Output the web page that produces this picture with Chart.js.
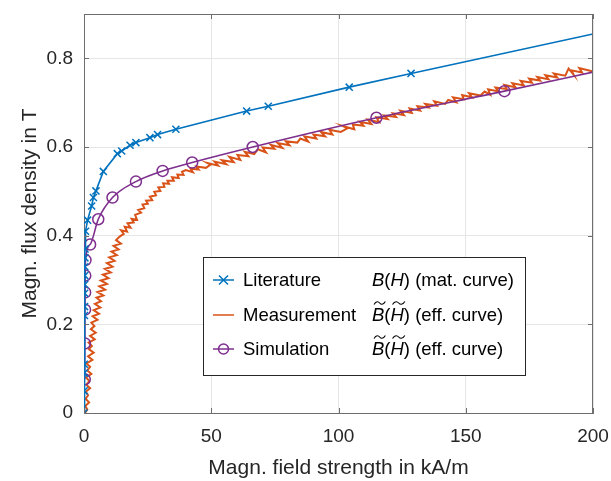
<!DOCTYPE html>
<html>
<head>
<meta charset="utf-8">
<script src="https://cdn.jsdelivr.net/npm/chart.js@4.4.1/dist/chart.umd.min.js"></script>
<style>
  html, body { margin: 0; padding: 0; background: #fff; }
  #wrap { width: 611px; height: 481px; }
</style>
</head>
<body>
<div id="wrap"><canvas id="chart" width="611" height="481"></canvas></div>
<script>
// Axis ticks
const xTicks = [0, 50, 100, 150, 200];
const yTicks = [0, 0.2, 0.4, 0.6, 0.8];

// Literature: B(H) material curve (kA/m, T)
const litH = [0, 0.05, 0.1, 0.12, 0.2, 0.22, 0.25, 0.28, 0.3, 0.33, 0.36, 0.4, 0.6, 1.4, 3.0, 3.7, 4.7, 7.6,
  13.1, 14.8, 18.1, 20.4, 25.9, 28.9, 36.1, 63.9, 72.4, 104.2, 128.5, 200];
const litB = [0, 0.05, 0.09, 0.11, 0.22, 0.24, 0.27, 0.29, 0.31, 0.33, 0.35, 0.37, 0.41, 0.435, 0.467, 0.486, 0.501, 0.545,
  0.585, 0.591, 0.604, 0.610, 0.621, 0.628, 0.640, 0.681, 0.692, 0.735, 0.766, 0.855];

const measH = [
  0.4, 1.3, 0.5, 2.0, 0.6, 1.6, 0.7, 2.4, 0.9, 2.1, 0.8, 2.9, 1.3, 2.4, 1.0, 3.3, 1.6, 3.8, 1.9, 3.1,
  1.8, 4.2, 2.4, 4.6, 2.7, 4.1, 2.9, 5.3, 3.4, 5.9, 3.8, 6.4, 4.3, 6.7, 4.9, 7.6, 5.3, 8.3, 6.0, 9.0,
  6.6, 9.6, 7.4, 10.5, 8.2, 11.2, 9.0, 12.0, 9.9, 12.9, 10.8, 13.6, 11.6, 14.5, 12.6, 14.0,
  15.6, 14.6, 16.9, 16.0, 18.3, 17.1, 19.5, 18.7, 20.8, 20.1, 22.4, 21.3, 23.7, 23.0, 25.1, 24.4,
  26.8, 25.9, 28.3, 27.6, 30.0, 29.2, 31.6, 31.1, 33.4, 32.8, 35.3, 34.6, 37.2, 36.7, 39.1, 38.5,
  40.0, 42.8, 41.9, 45.1, 44.2, 47.9, 49.6, 48.4, 52.7, 51.3, 55.9, 54.2, 58.8, 57.1, 61.4, 60.3, 64.6, 63.2, 66.9, 68.3,
  71.5, 70.2, 74.8, 73.4, 77.9, 76.1, 80.7, 79.3, 83.8, 85.0, 88.1, 86.6, 91.3, 90.2, 94.7, 93.1, 97.6, 96.4, 100.9, 103.5,
  101.8, 106.2, 105.6, 109.8, 108.4, 112.9, 111.5, 116.0, 114.9, 119.3, 118.0, 122.6, 121.4, 125.7, 124.3, 128.8, 127.9, 132.1, 131.0, 135.4,
  134.1, 138.7, 137.6, 141.9, 143.1, 146.3, 145.0, 149.2, 148.6, 152.5, 151.3, 155.8, 157.4, 159.6, 158.8, 162.9, 161.7, 166.1, 165.2, 169.5,
  168.3, 172.8, 171.6, 176.0, 174.9, 179.2, 178.1, 182.5, 181.3, 185.9, 184.6, 189.1, 190.4, 192.3, 191.5, 195.7, 194.6, 198.8, 200.0];
const measB = [
  0.000, 0.008, 0.016, 0.024, 0.032, 0.040, 0.048, 0.056, 0.064, 0.072, 0.080, 0.088, 0.096, 0.104, 0.112, 0.120, 0.128, 0.136, 0.144, 0.151,
  0.159, 0.166, 0.174, 0.181, 0.189, 0.196, 0.204, 0.210, 0.218, 0.224, 0.232, 0.238, 0.246, 0.252, 0.260, 0.265, 0.273, 0.278, 0.286, 0.291,
  0.299, 0.304, 0.312, 0.317, 0.325, 0.330, 0.338, 0.343, 0.351, 0.356, 0.364, 0.369, 0.377, 0.382, 0.390, 0.398,
  0.404, 0.412, 0.409, 0.420, 0.418, 0.428, 0.430, 0.438, 0.436, 0.447, 0.452, 0.458, 0.462, 0.470, 0.472, 0.479,
  0.480, 0.488, 0.491, 0.499, 0.501, 0.509, 0.510, 0.518, 0.517, 0.524, 0.524, 0.532, 0.530, 0.538, 0.537, 0.544,
  0.548, 0.543, 0.551, 0.549, 0.556, 0.553, 0.560, 0.564, 0.558, 0.567, 0.561, 0.570, 0.566, 0.578, 0.571, 0.582, 0.579, 0.589, 0.584, 0.595,
  0.588, 0.599, 0.596, 0.605, 0.598, 0.609, 0.604, 0.613, 0.610, 0.619, 0.612, 0.624, 0.619, 0.628, 0.624, 0.634, 0.628, 0.639, 0.634, 0.642,
  0.647, 0.640, 0.651, 0.648, 0.657, 0.652, 0.662, 0.656, 0.667, 0.663, 0.671, 0.668, 0.676, 0.672, 0.682, 0.677, 0.687, 0.682, 0.692, 0.689,
  0.697, 0.693, 0.703, 0.697, 0.706, 0.701, 0.712, 0.708, 0.717, 0.712, 0.721, 0.716, 0.725, 0.718, 0.730, 0.725, 0.734, 0.731, 0.740, 0.735,
  0.744, 0.739, 0.749, 0.745, 0.754, 0.750, 0.758, 0.753, 0.762, 0.757, 0.766, 0.761, 0.777, 0.764, 0.773, 0.768, 0.778, 0.772, 0.770];

// Simulation: effective curve
const simH = [0.3, 0.35, 0.4, 0.45, 0.5, 0.6, 2.4, 5.6, 11.2, 20.4, 30.9, 42.5, 66.3, 114.9, 165.2, 200];
const simB = [0.076, 0.157, 0.233, 0.272, 0.31, 0.345, 0.38, 0.437, 0.486, 0.522, 0.546, 0.565, 0.600, 0.666, 0.726, 0.769];

const blue = '#0072BD';
const orange = '#D95319';
const purple = '#7E2F8E';
const axisColor = '#6e6e6e';
const fontFamily = '"Liberation Sans", Arial, Helvetica, sans-serif';

const toPoints = (xs, ys) => xs.map((v, i) => ({ x: v, y: ys[i] }));

// Box lines on top/right and inward tick marks (MATLAB style)
const boxAndTicks = {
    id: 'boxAndTicks',
    afterDatasetsDraw(chart) {
        const { ctx, chartArea: a, scales: { x, y } } = chart;
        ctx.save();
        ctx.strokeStyle = axisColor;
        ctx.lineWidth = 1;
        ctx.beginPath();
        ctx.moveTo(a.left, a.top + 0.5);
        ctx.lineTo(a.right, a.top + 0.5);
        ctx.moveTo(a.right - 0.5, a.top);
        ctx.lineTo(a.right - 0.5, a.bottom);
        xTicks.forEach(v => {
            const px = Math.round(x.getPixelForValue(v)) + 0.5;
            ctx.moveTo(px, a.bottom); ctx.lineTo(px, a.bottom - 5);
            ctx.moveTo(px, a.top); ctx.lineTo(px, a.top + 5);
        });
        yTicks.forEach(v => {
            const py = Math.round(y.getPixelForValue(v)) + 0.5;
            ctx.moveTo(a.left, py); ctx.lineTo(a.left + 5, py);
            ctx.moveTo(a.right, py); ctx.lineTo(a.right - 5, py);
        });
        ctx.stroke();
        ctx.restore();
    }
};

// Two-column legend box
const legendRows = [
    { label: 'Literature', color: blue, marker: 'cross', tilde: false, note: ' (mat. curve)' },
    { label: 'Measurement', color: orange, marker: null, tilde: true, note: ' (eff. curve)' },
    { label: 'Simulation', color: purple, marker: 'circle', tilde: true, note: ' (eff. curve)' }
];

function drawTilde(ctx, x0, w, yTop) {
    ctx.beginPath();
    ctx.moveTo(x0, yTop + 1.5);
    ctx.bezierCurveTo(x0 + w * 0.2, yTop - 2.5, x0 + w * 0.4, yTop - 1.5, x0 + w * 0.5, yTop);
    ctx.bezierCurveTo(x0 + w * 0.6, yTop + 1.5, x0 + w * 0.8, yTop + 2.5, x0 + w, yTop - 1.5);
    ctx.stroke();
}

const mathLegend = {
    id: 'mathLegend',
    afterDraw(chart) {
        const ctx = chart.ctx;
        const box = { x: 203.5, y: 257.5, w: 322, h: 118 };
        const rowY = [280, 315, 349];
        ctx.save();
        ctx.fillStyle = '#fff';
        ctx.fillRect(box.x, box.y, box.w, box.h);
        ctx.strokeStyle = '#262626';
        ctx.lineWidth = 1;
        ctx.strokeRect(box.x, box.y, box.w, box.h);

        legendRows.forEach((row, i) => {
            const cy = rowY[i];
            ctx.strokeStyle = row.color;
            ctx.lineWidth = 1.5;
            ctx.beginPath();
            ctx.moveTo(213, cy); ctx.lineTo(234, cy);
            ctx.stroke();
            if (row.marker === 'cross') {
                ctx.beginPath();
                ctx.moveTo(219, cy - 4.5); ctx.lineTo(228, cy + 4.5);
                ctx.moveTo(219, cy + 4.5); ctx.lineTo(228, cy - 4.5);
                ctx.stroke();
            } else if (row.marker === 'circle') {
                ctx.beginPath();
                ctx.arc(223.5, cy, 5, 0, Math.PI * 2);
                ctx.stroke();
            }

            ctx.fillStyle = '#000';
            ctx.textBaseline = 'middle';
            ctx.font = '18.5px ' + fontFamily;
            ctx.fillText(row.label, 243, cy + 1);

            // B(H) with optional tildes
            let x = 372;
            const italic = 'italic 18.5px ' + fontFamily;
            const upright = '18.5px ' + fontFamily;
            ctx.strokeStyle = '#000';
            ctx.lineWidth = 1.1;
            const parts = [
                { t: 'B', f: italic, tilde: row.tilde },
                { t: '(', f: upright },
                { t: 'H', f: italic, tilde: row.tilde },
                { t: ')' + row.note, f: upright }
            ];
            parts.forEach(p => {
                ctx.font = p.f;
                const w = ctx.measureText(p.t).width;
                ctx.fillText(p.t, x, cy + 1);
                if (p.tilde) drawTilde(ctx, x + 2, w - 1, cy - 12);
                x += w;
            });
        });
        ctx.restore();
    }
};

new Chart(document.getElementById('chart'), {
    type: 'scatter',
    data: {
        datasets: [
            {
                label: 'Literature',
                data: toPoints(litH, litB),
                showLine: true,
                borderColor: blue,
                backgroundColor: blue,
                borderWidth: 1.6,
                pointStyle: 'crossRot',
                pointRadius: ctx => (ctx.raw && ctx.raw.x >= 200 ? 0 : 5),
                pointBorderWidth: 1.5,
                order: 0
            },
            {
                label: 'Measurement',
                data: toPoints(measH, measB),
                showLine: true,
                borderColor: orange,
                borderWidth: 2,
                pointRadius: 0,
                order: 2
            },
            {
                label: 'Simulation',
                data: toPoints(simH, simB),
                showLine: true,
                borderColor: purple,
                backgroundColor: 'rgba(0,0,0,0)',
                borderWidth: 1.6,
                cubicInterpolationMode: 'monotone',
                pointStyle: 'circle',
                pointRadius: ctx => (ctx.raw && ctx.raw.x >= 200 ? 0 : 5.5),
                pointBorderWidth: 1.5,
                order: 1
            }
        ]
    },
    options: {
        responsive: false,
        animation: false,
        layout: { padding: { left: 0, right: 18, top: 14, bottom: 0 } },
        plugins: {
            legend: { display: false },
            tooltip: { enabled: false }
        },
        scales: {
            x: {
                type: 'linear',
                min: 0,
                max: 200,
                afterBuildTicks: scale => { scale.ticks = xTicks.map(v => ({ value: v })); },
                afterFit: scale => {
                    scale.height = 68;
                    scale.paddingLeft = 0;
                    scale.paddingRight = 0;
                },
                grid: { color: '#e6e6e6', drawTicks: false },
                border: { color: axisColor },
                ticks: { color: '#262626', padding: 12, font: { family: fontFamily, size: 19 } },
                title: {
                    display: true,
                    text: 'Magn. field strength in kA/m',
                    color: '#262626',
                    padding: { top: 0, bottom: 0 },
                    font: { family: fontFamily, size: 21 }
                }
            },
            y: {
                type: 'linear',
                min: 0,
                max: 0.9,
                afterBuildTicks: scale => { scale.ticks = yTicks.map(v => ({ value: v })); },
                afterFit: scale => {
                    scale.width = 84;
                    scale.paddingTop = 0;
                    scale.paddingBottom = 0;
                },
                grid: { color: '#e6e6e6', drawTicks: false },
                border: { color: axisColor },
                ticks: { color: '#262626', padding: 11, font: { family: fontFamily, size: 19 } },
                title: {
                    display: true,
                    text: 'Magn. flux density in T',
                    color: '#262626',
                    padding: { top: 18, bottom: 0 },
                    font: { family: fontFamily, size: 21 }
                }
            }
        }
    },
    plugins: [boxAndTicks, mathLegend]
});
</script>
</body>
</html>
